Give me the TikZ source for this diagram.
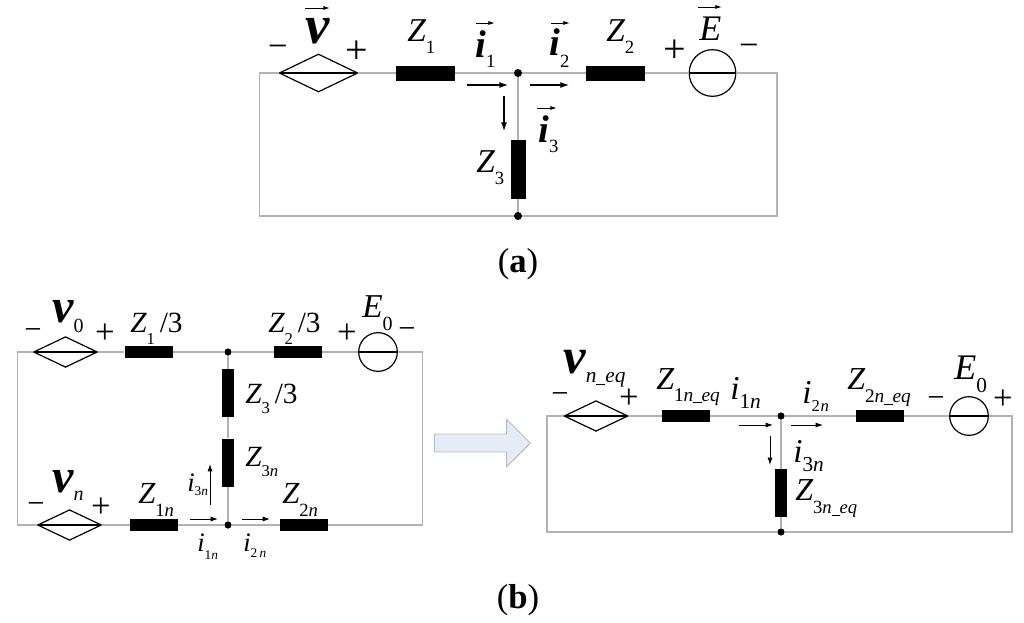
\documentclass[tikz,border=0pt]{standalone}
\usepackage{fontspec}
\setmainfont{Liberation Serif}
\usetikzlibrary{arrows.meta,shapes.geometric,shapes.arrows}

% dropped subscript: drop, size, text
\newcommand{\lsub}[3]{\raisebox{-#1}{\fontsize{#2}{#2}\selectfont\itshape #3}}
\newcommand{\usc}{\rule[-1.5pt]{0.42em}{0.6pt}}

\definecolor{wiregray}{HTML}{B2B2B2}
\definecolor{stepfill}{HTML}{E6ECF6}
\definecolor{stepedge}{HTML}{B8BEC6}

\tikzset{
  wire/.style={draw=wiregray, line width=.85pt},
  dot/.style={circle, fill=black, inner sep=0pt, minimum size=#1},
  dot/.default=6pt,
  zbox/.style={rectangle, fill=black, inner sep=0pt, minimum width=44pt, minimum height=11.25pt},
  zboxs/.style={rectangle, fill=black, inner sep=0pt, minimum width=36pt, minimum height=9pt},
  zboxv/.style={rectangle, fill=black, inner sep=0pt, minimum width=11.25pt, minimum height=44pt},
  zboxsv/.style={rectangle, fill=black, inner sep=0pt, minimum width=9pt, minimum height=36pt},
  midline/.style={path picture={\draw[line width=1.8pt] (path picture bounding box.west) -- (path picture bounding box.east);}},
  vsrc/.style={diamond, draw, line width=.9pt, inner sep=0pt, midline, minimum width=59pt, minimum height=28.5pt},
  vsrcs/.style={diamond, draw, line width=.9pt, inner sep=0pt, midline, minimum width=48pt, minimum height=23pt},
  esrc/.style={circle, draw, line width=.9pt, inner sep=0pt, midline, minimum size=35pt},
  esrcs/.style={circle, draw, line width=.9pt, inner sep=0pt, midline, minimum size=29pt},
  current/.style={line width=.8pt, -{Latex[length=6.5pt,width=4.5pt]}},
  currents/.style={line width=.7pt, -{Latex[length=5.5pt,width=3.8pt]}},
  overarr/.style={line width=.7pt, -{Latex[length=5pt,width=3pt]}},
  lab/.style={anchor=base west, inner sep=0pt, font=\fontsize{#1}{#1}\selectfont\itshape},
  labv/.style={anchor=base west, inner sep=0pt, font=\fontsize{#1}{#1}\selectfont\itshape\bfseries},
  sign/.style={inner sep=0pt, font=\fontsize{#1}{#1}\selectfont}
}

\begin{document}
\begin{tikzpicture}[x=.75pt, y=-.75pt]
\useasboundingbox (0,0) rectangle (1024,622);

% Circuit (a)
\node[vsrc] (va) at (318.5,73) {};
\node[zbox] (z1a) at (425.5,73) {};
\node[dot] (ja) at (518,73) {};
\node[zbox] (z2a) at (615.5,73) {};
\node[esrc] (ea) at (712.5,73) {};
\node[zboxv] (z3a) at (518,169.5) {};
\node[dot] (jb) at (518,216) {};
\coordinate (atl) at (259.5,73);
\coordinate (atr) at (777,73);
\coordinate (abl) at (259.5,216);
\coordinate (abr) at (777,216);

\draw[wire] (va.east) -- (z1a.west);
\draw[wire] (z1a.east) -- (ja);
\draw[wire] (ja) -- (z2a.west);
\draw[wire] (z2a.east) -- (ea.west);
\draw[wire] (ea.east) -- (atr) -- (abr) -- (jb);
\draw[wire] (jb) -- (abl) -- (atl) -- (va.west);
\draw[wire] (ja) -- (z3a.north);
\draw[wire] (z3a.south) -- (jb);

\draw[current] ([shift={(-51,12)}]ja.center) -- ([shift={(-10,12)}]ja.center);
\draw[current] ([shift={(12,12)}]ja.center) -- ([shift={(51,12)}]ja.center);
\draw[current] ([shift={(-14,23)}]ja.center) -- ([shift={(-14,58)}]ja.center);

\node[sign=26pt] (ma) at (278,51) {−};
\node[sign=30pt] (pa) at (357,52) {+};
\node[sign=30pt] (pe) at (675,51) {+};
\node[sign=26pt] (me) at (749,50) {−};
\node[labv=41pt] (lv) at (305,43) {v};
\node[lab=25pt] (lz1) at (407,41) {Z\lsub{9pt}{14pt}{\upshape 1}};
\node[lab=25pt] (lz2) at (606,41) {Z\lsub{9pt}{14pt}{\upshape 2}};
\node[lab=25pt] (lz3) at (476,172) {Z\lsub{9.5pt}{14pt}{\upshape 3}};
\node[lab=27pt] (le) at (699,40) {E};
\node[labv=29pt] (li1) at (475,57) {i\lsub{8pt}{14pt}{\upshape\mdseries 1}};
\node[labv=29pt] (li2) at (549,55) {i\lsub{9pt}{14pt}{\upshape\mdseries 2}};
\node[labv=29pt] (li3) at (538,142) {i\lsub{7.5pt}{14pt}{\upshape\mdseries 3}};
\draw[overarr] ([shift={(0,-35)}]lv.base west) -- ([shift={(25,-35)}]lv.base west);
\draw[overarr] ([shift={(-1,-33)}]le.base west) -- ([shift={(23,-33)}]le.base west);
\draw[overarr] ([shift={(1,-34)}]li1.base west) -- ([shift={(20,-34)}]li1.base west);
\draw[overarr] ([shift={(2,-32)}]li2.base west) -- ([shift={(21,-32)}]li2.base west);
\draw[overarr] ([shift={(-1,-34)}]li3.base west) -- ([shift={(19,-34)}]li3.base west);
\node[sign=26pt] (capa) at (518,264) {(\textbf{a})};

% Circuit (b), left
\node[vsrcs] (v0) at (65.5,352) {};
\node[zboxs] (z1b) at (148.5,352) {};
\node[dot=5.4pt] (jc) at (228,352) {};
\node[zboxs] (z2b) at (298,352) {};
\node[esrcs] (e0) at (378,352) {};
\node[zboxsv] (z3b) at (228,393) {};
\node[zboxsv] (z3n) at (228,462.5) {};
\node[dot=5.4pt] (jd) at (228,525) {};
\node[vsrcs] (vn) at (69.5,525) {};
\node[zboxs] (z1n) at (154,525) {};
\node[zboxs] (z2n) at (304,525) {};
\coordinate (btl) at (17.5,352);
\coordinate (btr) at (422.5,352);
\coordinate (bbl) at (17.5,525);
\coordinate (bbr) at (422.5,525);

\draw[wire] (v0.east) -- (z1b.west);
\draw[wire] (z1b.east) -- (jc);
\draw[wire] (jc) -- (z2b.west);
\draw[wire] (z2b.east) -- (e0.west);
\draw[wire] (e0.east) -- (btr) -- (bbr) -- (z2n.east);
\draw[wire] (z2n.west) -- (jd);
\draw[wire] (jd) -- (z1n.east);
\draw[wire] (z1n.west) -- (vn.east);
\draw[wire] (vn.west) -- (bbl) -- (btl) -- (v0.west);
\draw[wire] (jc) -- (z3b.north);
\draw[wire] (z3b.south) -- (z3n.north);
\draw[wire] (z3n.south) -- (jd);

\draw[currents] ([shift={(-38,-6)}]jd.center) -- ([shift={(-10,-6)}]jd.center);
\draw[currents] ([shift={(14,-6)}]jd.center) -- ([shift={(42,-6)}]jd.center);
\draw[currents] ([shift={(-18,-20)}]jd.center) -- ([shift={(-18,-61)}]jd.center);

\node[sign=23pt] (m0) at (33,334) {−};
\node[sign=26pt] (p0) at (105,334) {+};
\node[sign=26pt] (pe0) at (347,334) {+};
\node[sign=23pt] (me0) at (407,333) {−};
\node[sign=23pt] (mn) at (36,508) {−};
\node[sign=26pt] (pn) at (101,508) {+};
\node[labv=36pt] (lv0) at (52,322) {v\lsub{7.5pt}{15pt}{\upshape\mdseries 0}};
\node[labv=36pt] (lvn) at (52,492) {v\lsub{6pt}{15pt}{\mdseries n}};
\node[lab=22pt] (lz1b) at (130,332) {Z\lsub{9pt}{12.5pt}{\upshape 1}\,{\upshape /3}};
\node[lab=22pt] (lz2b) at (268,332) {Z\lsub{9pt}{12.5pt}{\upshape 2}\,{\upshape /3}};
\node[lab=22pt] (lz3b) at (245,403) {Z\lsub{8pt}{12.5pt}{\upshape 3}\,{\upshape /3}};
\node[lab=22pt] (lz3n) at (245,466) {Z\lsub{8pt}{12.5pt}{{\upshape 3}n}};
\node[lab=23pt] (lz1n) at (138,503) {Z\lsub{10pt}{14pt}{{\upshape 1}n}};
\node[lab=23pt] (lz2n) at (282,503) {Z\lsub{10pt}{14pt}{{\upshape 2}n}};
\node[lab=25pt] (le0) at (362,317) {E\lsub{10pt}{15pt}{\upshape 0}};
\node[lab=20pt] (li3n) at (187,491) {i\lsub{3.5pt}{10pt}{{\upshape 3}n}};
\node[lab=20pt] (li1n) at (197,551) {i\lsub{6pt}{10pt}{{\upshape 1}n}};
\node[lab=20pt] (li2n) at (243,551) {i\lsub{5pt}{10pt}{{\upshape 2}\,n}};
\node[sign=26pt] (capb) at (518,600) {(\textbf{b})};

% Arrow between the circuits
\node[single arrow, draw=stepedge, fill=stepfill, line width=.7pt, inner sep=0pt, inner ysep=6.4pt,
      minimum height=72pt, minimum width=35pt, single arrow head extend=11pt, anchor=tip] (step) at (531,443) {};

% Circuit (b), right
\node[vsrcs] (veq) at (596,416) {};
\node[zboxs] (z1e) at (686,416) {};
\node[dot=5.4pt] (je) at (781,416) {};
\node[zboxs] (z2e) at (880,416) {};
\node[esrcs] (e0e) at (969,416) {};
\node[zboxsv] (z3e) at (781,493) {};
\node[dot=5.4pt] (jf) at (781,532) {};
\coordinate (ctl) at (547,416);
\coordinate (ctr) at (1012,416);
\coordinate (cbl) at (547,532);
\coordinate (cbr) at (1012,532);

\draw[wire] (veq.east) -- (z1e.west);
\draw[wire] (z1e.east) -- (je);
\draw[wire] (je) -- (z2e.west);
\draw[wire] (z2e.east) -- (e0e.west);
\draw[wire] (e0e.east) -- (ctr) -- (cbr) -- (jf);
\draw[wire] (jf) -- (cbl) -- (ctl) -- (veq.west);
\draw[wire] (je) -- (z3e.north);
\draw[wire] (z3e.south) -- (jf);

\draw[currents] ([shift={(-42,9)}]je.center) -- ([shift={(-8,9)}]je.center);
\draw[currents] ([shift={(10,9)}]je.center) -- ([shift={(42,9)}]je.center);
\draw[currents] ([shift={(-11,20)}]je.center) -- ([shift={(-11,49)}]je.center);

\node[sign=23pt] (meq) at (560,398) {−};
\node[sign=26pt] (peq) at (629,399) {+};
\node[sign=23pt] (me1) at (936,402) {−};
\node[sign=26pt] (pe1) at (1003,400) {+};
\node[labv=38pt] (lveq) at (563,373) {v\lsub{7pt}{16pt}{\mdseries n\usc eq}};
\node[lab=24pt] (lz1e) at (656,389) {Z\lsub{9pt}{14.5pt}{{\upshape 1}n\usc eq}};
\node[lab=24pt] (lz2e) at (847,389) {Z\lsub{10pt}{14.5pt}{{\upshape 2}n\usc eq}};
\node[lab=24pt] (lz3e) at (795,500) {Z\lsub{10pt}{14pt}{{\upshape 3}n\usc eq}};
\node[lab=27pt] (le0e) at (954,379) {E\lsub{10pt}{16pt}{\upshape 0}};
\node[lab=25pt] (li1e) at (730,399) {i\lsub{7pt}{16pt}{{\upshape 1}n}};
\node[lab=25pt] (li2e) at (802,403) {i\lsub{6pt}{12.5pt}{{\upshape 2}\hspace{.05em}n}};
\node[lab=25pt] (li3e) at (793,462) {i\lsub{7pt}{16pt}{{\upshape 3}n}};

\end{tikzpicture}
\end{document}
